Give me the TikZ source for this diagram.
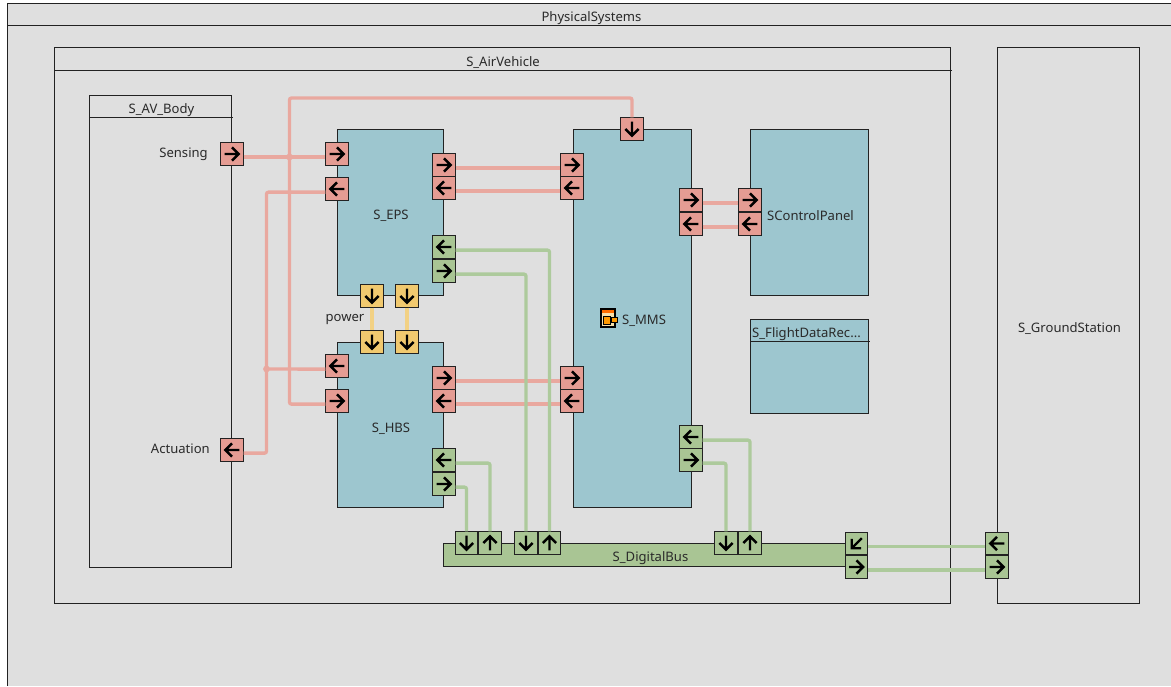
\documentclass[tikz,border=0pt]{standalone}
\usepackage{fontspec}
\setmainfont{Noto Sans}
\definecolor{panelgray}{HTML}{DFDFDF}
\definecolor{blockteal}{HTML}{9DC6CF}
\definecolor{busgreen}{HTML}{A9C594}
\definecolor{portred}{HTML}{E59C93}
\definecolor{linered}{HTML}{E9A89F}
\definecolor{portgreen}{HTML}{A9C594}
\definecolor{linegreen}{HTML}{ADCA9C}
\definecolor{portyellow}{HTML}{F1C96F}
\definecolor{lineyellow}{HTML}{F2D184}
\definecolor{edgegray}{HTML}{222222}
\definecolor{textgray}{HTML}{2A2A2A}

\tikzstyle{sys} = [draw = edgegray, line width = 0.8pt, fill = panelgray]
\tikzstyle{block} = [draw = edgegray, line width = 0.8pt, fill = blockteal]
\tikzstyle{rule} = [draw = edgegray, line width = 0.8pt]
\tikzstyle{caption} = [text = textgray, inner sep = 0pt, font = \fontsize{9.8}{11}\selectfont]
\tikzstyle{pr} = [minimum width = 16.8pt, minimum height = 16.8pt, inner sep = 0pt, draw = edgegray, line width = 0.8pt, fill = portred]
\tikzstyle{pg} = [pr, fill = portgreen]
\tikzstyle{py} = [pr, fill = portyellow]
\tikzstyle{ar} = [draw = black, line width = 1.8pt]
\tikzstyle{lr} = [draw = linered, line width = 2.5pt, rounded corners = 1.5pt]
\tikzstyle{lg} = [draw = linegreen, line width = 2.5pt, rounded corners = 1.5pt]
\tikzstyle{ly} = [draw = lineyellow, line width = 2.5pt]

% style, name, position, direction of the arrow
\newcommand{\portnode}[4]{
    \node [#1] (#2) at (#3) {};
    \draw [ar, shift = {(#2.center)}, rotate = #4] (-5.6pt,0pt) -- (5pt,0pt) (0pt,5pt) -- (5pt,0pt) -- (0pt,-5pt);
}

\begin{document}
\begin{tikzpicture}[x = 0.75pt, y = -0.75pt]
        \useasboundingbox (0,0) rectangle (1171,686);
        % containers
        \fill [white] (0,0) rectangle (1171,686);
        \fill [panelgray] (7.5,3.5) rectangle (1171,686);
        \draw [rule] (7.5,686) -- (7.5,3.5) -- (1171,3.5);
        \draw [rule] (7.5,25.5) -- (1171,25.5);
        \node [caption] (physical) at (591.5,18) {PhysicalSystems};

        \draw [sys] (54.5,47.5) rectangle (950.5,603.5);
        \draw [rule] (54.5,70.5) -- (952,70.5);
        \node [caption] (vehicle) at (503,63) {S\_AirVehicle};

        \draw [sys] (89.5,95.5) rectangle (231.5,567.5);
        \draw [rule] (89.5,117.5) -- (233,117.5);
        \node [caption] (body) at (161.5,110) {S\_AV\_Body};

        \draw [sys] (997.5,47.5) rectangle (1139.5,603.5);
        \node [caption] (ground) at (1069.5,329) {S\_GroundStation};

        \draw [block] (337.5,129.5) rectangle (443.5,295.5);
        \node [caption] (eps) at (391,216) {S\_EPS};
        \draw [block] (337.5,342.5) rectangle (443.5,507.5);
        \node [caption] (hbs) at (391,429) {S\_HBS};
        \draw [block] (573.5,129.5) rectangle (691.5,507.5);
        \node [caption] (mms) at (644,321) {S\_MMS};
        \draw [block] (750.5,129.5) rectangle (868.5,295.5);
        \node [caption] (controlpanel) at (810.5,215.5) {SControlPanel};
        \draw [block] (750.5,319.5) rectangle (868.5,413.5);
        \draw [rule] (750.5,341.5) -- (870,341.5);
        \node [caption] (recorder) at (806.5,334.5) {S\_FlightDataRec...};
        \draw [rule, fill = busgreen] (443.5,543.5) rectangle (856.5,566.5);
        \node [caption] (bus) at (650.5,558) {S\_DigitalBus};

        \node [caption, anchor = east] (sensing) at (208,154) {Sensing};
        \node [caption, anchor = east] (actuation) at (210,449) {Actuation};
        \node [caption] (power) at (345,319) {power};

        % icon of S_MMS
        \draw [black, line width = 1pt, fill = white] (601,309) rectangle (615,327);
        \fill [orange!85!red] (602,310) rectangle (614,312.5);
        \fill [portyellow!60!white] (602,313) rectangle (614,326);
        \draw [black, fill = orange!80!yellow, line width = 0.5pt] (603,316) rectangle (610,324);
        \draw [black, fill = orange!80!yellow, line width = 0.5pt] (611,317) rectangle (617,322);

        % ports
        \portnode{pr}{sensing_p}{232,154}{0}
        \portnode{pr}{actuation_p}{232,450}{180}
        \portnode{pr}{eps_in1}{337,154}{0}
        \portnode{pr}{eps_in2}{337,189}{180}
        \portnode{pr}{eps_o1}{444,165}{0}
        \portnode{pr}{eps_o2}{444,188}{180}
        \portnode{pg}{eps_g1}{444,247}{180}
        \portnode{pg}{eps_g2}{444,271}{0}
        \portnode{py}{eps_y1}{372,296}{-90}
        \portnode{py}{eps_y2}{407,296}{-90}
        \portnode{py}{hbs_y1}{372,342}{-90}
        \portnode{py}{hbs_y2}{407,342}{-90}
        \portnode{pr}{hbs_in1}{337,366}{180}
        \portnode{pr}{hbs_in2}{337,401}{0}
        \portnode{pr}{hbs_o1}{444,378}{0}
        \portnode{pr}{hbs_o2}{444,401}{180}
        \portnode{pg}{hbs_g1}{444,460}{180}
        \portnode{pg}{hbs_g2}{444,484}{0}
        \portnode{pr}{mms_top}{632,129}{-90}
        \portnode{pr}{mms_in1}{572,165}{0}
        \portnode{pr}{mms_in2}{572,188}{180}
        \portnode{pr}{mms_in3}{572,378}{0}
        \portnode{pr}{mms_in4}{572,401}{180}
        \portnode{pr}{mms_o1}{691,200}{0}
        \portnode{pr}{mms_o2}{691,224}{180}
        \portnode{pg}{mms_g1}{691,437}{180}
        \portnode{pg}{mms_g2}{691,460}{0}
        \portnode{pr}{cp_1}{750,200}{0}
        \portnode{pr}{cp_2}{750,224}{180}
        \portnode{pg}{bus_1}{466.5,543}{-90}
        \portnode{pg}{bus_2}{490,543}{90}
        \portnode{pg}{bus_3}{526,543}{-90}
        \portnode{pg}{bus_4}{549.5,543}{90}
        \portnode{pg}{bus_5}{726,543}{-90}
        \portnode{pg}{bus_6}{750,543}{90}
        \portnode{pg}{bus_7}{856.5,543.5}{225}
        \portnode{pg}{bus_8}{856.5,567}{0}
        \portnode{pg}{gs_1}{997,543.5}{180}
        \portnode{pg}{gs_2}{997,567}{0}

        % connectors
        \coordinate (sense_j) at (289.5,157);
        \coordinate (act_j) at (266.5,369);
        \draw [lr] (sensing_p.-15) -- (eps_in1.195);
        \draw [lr] (sense_j) -- (289.5,98) -| (mms_top.north);
        \draw [lr] (sense_j) |- (hbs_in2.195);
        \draw [lr] (actuation_p.-15) -| (act_j) |- (eps_in2.195);
        \draw [lr] (act_j) -- (hbs_in1.195);
        \fill [linered] (sense_j) circle (3.4);
        \fill [linered] (act_j) circle (3.4);
        \draw [lr] (eps_o1.-15) -- (mms_in1.195);
        \draw [lr] (eps_o2.-15) -- (mms_in2.195);
        \draw [lr] (hbs_o1.-15) -- (mms_in3.195);
        \draw [lr] (hbs_o2.-15) -- (mms_in4.195);
        \draw [lr] (mms_o1.-15) -- (cp_1.195);
        \draw [lr] (mms_o2.-15) -- (cp_2.195);
        \draw [ly] (eps_y1.south) -- (hbs_y1.north);
        \draw [ly] (eps_y2.south) -- (hbs_y2.north);
        \draw [lg] (eps_g1.-15) -| (bus_4.north);
        \draw [lg] (eps_g2.-15) -| (bus_3.north);
        \draw [lg] (hbs_g1.-15) -| (bus_2.north);
        \draw [lg] (hbs_g2.-15) -| (bus_1.north);
        \draw [lg] (mms_g1.-15) -| (bus_6.north);
        \draw [lg] (mms_g2.-15) -| (bus_5.north);
        \draw [lg] (bus_7.-15) -- (gs_1.195);
        \draw [lg] (bus_8.-15) -- (gs_2.195);
    \end{tikzpicture}
\end{document}
